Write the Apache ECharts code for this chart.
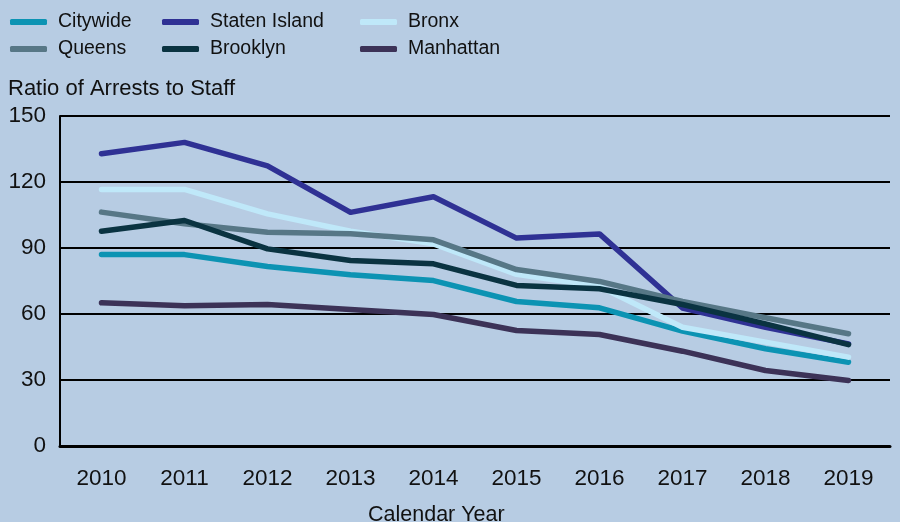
<!DOCTYPE html>
<html>
<head>
<meta charset="utf-8">
<script src="https://cdn.jsdelivr.net/npm/echarts@6/dist/echarts.min.js"></script>
<style>
  html, body { margin: 0; padding: 0; background: #b7cce3; }
  #chart { width: 900px; height: 522px; }
</style>
</head>
<body>
<div id="chart"></div>
<script>
const years = ['2010', '2011', '2012', '2013', '2014', '2015', '2016', '2017', '2018', '2019']
const yTicks = [0, 30, 60, 90, 120, 150]

const citywide = [87, 87, 81.6, 77.8, 75.2, 65.7, 62.8, 52.2, 44.2, 38.1]
const statenIsland = [132.8, 138, 127.3, 106.2, 113.3, 94.5, 96.4, 62.7, 54, 46.4]
const bronx = [116.6, 116.6, 105.5, 97.6, 91.9, 78, 72.5, 54, 47.2, 40.4]
const queens = [106.3, 101, 97.2, 96.5, 93.7, 80.2, 74.8, 65.7, 58.3, 51]
const brooklyn = [97.6, 102.5, 89.6, 84.3, 82.8, 73, 71.5, 64.3, 55.5, 46.1]
const manhattan = [65.1, 63.7, 64.3, 62, 59.8, 52.5, 50.7, 43.1, 34.3, 29.8]

const FONT = 'Liberation Sans'
const COLORS = {
  Citywide: '#0c93b3',
  'Staten Island': '#2f3194',
  Bronx: '#bfe8f9',
  Queens: '#577786',
  Brooklyn: '#0a3341',
  Manhattan: '#3c3257',
}

const seriesList = [
  ['Citywide', citywide],
  ['Staten Island', statenIsland],
  ['Bronx', bronx],
  ['Queens', queens],
  ['Brooklyn', brooklyn],
  ['Manhattan', manhattan],
]

function legendCol(left, names) {
  return {
    orient: 'vertical',
    left,
    top: 7,
    itemGap: 7,
    itemWidth: 37,
    itemHeight: 6,
    icon: 'roundRect',
    data: names,
    textStyle: { fontFamily: FONT, fontSize: 19.5, color: '#111', padding: [0, 0, 0, 6] },
  }
}

const chart = echarts.init(document.getElementById('chart'))
chart.setOption({
  backgroundColor: '#b7cce3',
  animation: false,
  title: [
    { text: 'Ratio of Arrests to Staff', left: 3, top: 73,
      textStyle: { fontFamily: FONT, fontSize: 22, fontWeight: 'normal', color: '#111' } },
    { text: 'Calendar Year', left: 363, top: 499,
      textStyle: { fontFamily: FONT, fontSize: 21.5, fontWeight: 'normal', color: '#111' } },
  ],
  legend: [
    legendCol(5, ['Citywide', 'Queens']),
    legendCol(157, ['Staten Island', 'Brooklyn']),
    legendCol(355, ['Bronx', 'Manhattan']),
  ],
  grid: { left: 60, right: 10, top: 116, bottom: 76 },
  xAxis: {
    type: 'category',
    data: years,
    boundaryGap: true,
    axisLine: { lineStyle: { color: '#000', width: 3 } },
    axisTick: { alignWithLabel: true, length: 15, lineStyle: { color: '#000', width: 2 } },
    axisLabel: { fontFamily: FONT, fontSize: 22.5, color: '#111', margin: 21 },
  },
  yAxis: {
    type: 'value',
    min: yTicks[0],
    max: yTicks[yTicks.length - 1],
    interval: 30,
    axisLine: { show: true, lineStyle: { color: '#000', width: 2 } },
    axisTick: { show: false },
    axisLabel: { fontFamily: FONT, fontSize: 22.5, color: '#111', margin: 14 },
    splitLine: { lineStyle: { color: '#000', width: 2 } },
  },
  series: seriesList.map(([name, data]) => ({
    name,
    type: 'line',
    data,
    symbol: 'none',
    color: COLORS[name],
    lineStyle: { color: COLORS[name], width: 5.5, cap: 'round', join: 'round' },
  })),
})
</script>
</body>
</html>
